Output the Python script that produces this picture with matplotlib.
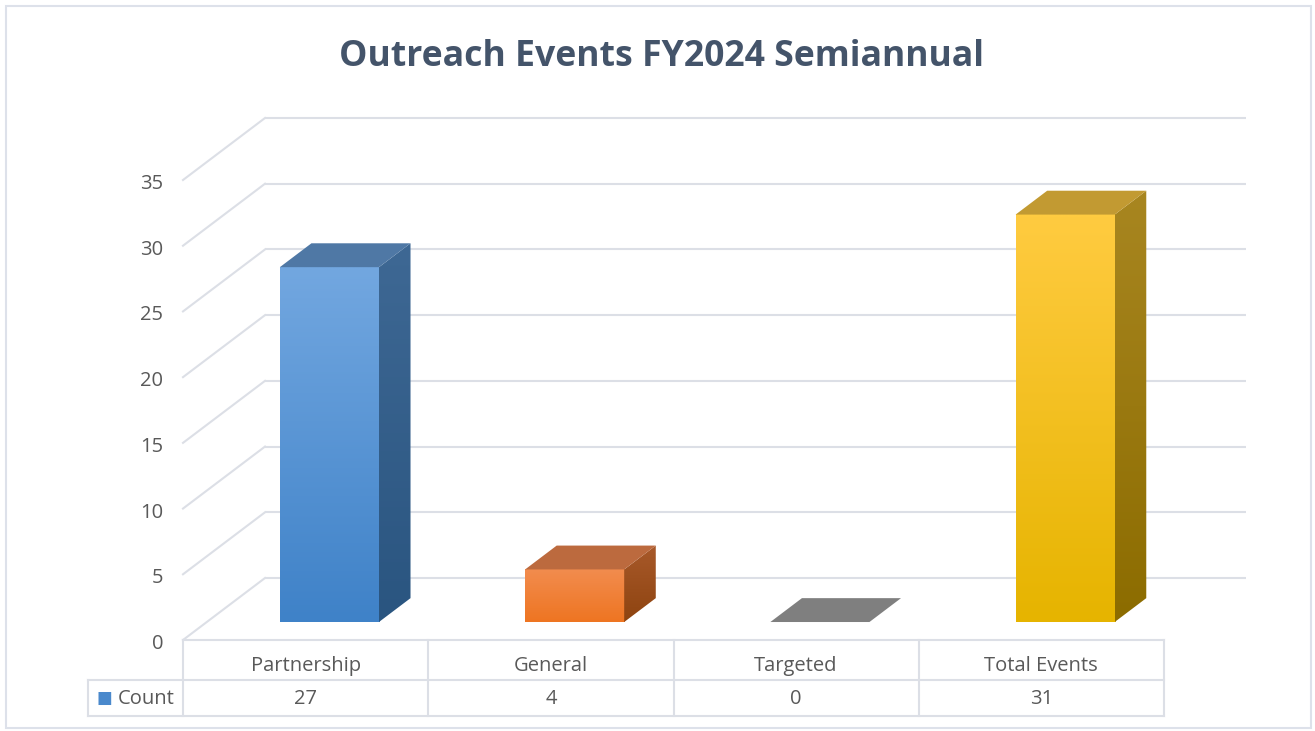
import numpy as np
import matplotlib
matplotlib.use("Agg")
import matplotlib.pyplot as plt
from matplotlib.patches import Polygon, Rectangle
from matplotlib.colors import LinearSegmentedColormap

# ---- data ----
categories = ["Partnership", "General", "Targeted", "Total Events"]
counts = [27, 4, 0, 31]
series_name = "Count"
yticks = [0, 5, 10, 15, 20, 25, 30, 35]
title = "Outreach Events FY2024 Semiannual"

# ---- style ----
front_cols = [("#72A7E0", "#3F82C8"), ("#F28C4E", "#EE7522"), ("#8A8A8A", "#7A7A7A"), ("#FFCB40", "#E6B400")]
side_cols = [("#3E6894", "#2A5580"), ("#A8592A", "#8E4410"), ("#6A6A6A", "#5A5A5A"), ("#A88620", "#8C6C00")]
top_cols = ["#4F78A5", "#BC6A3E", "#7F7F7F", "#C29A32"]
grid_c = "#DCDFE6"
text_c = "#595959"
title_c = "#44546A"
FONT = "Open Sans"

W, H = 1315, 731
fig = plt.figure(figsize=(W / 100, H / 100), dpi=100)
ax = fig.add_axes([0, 0, 1, 1])
ax.axis("off")

# axis scales: floor front spans x 0..n, y 0..35
n = len(categories)
x_px0, x_px1 = 183, 1164
y_px0, y_px35 = 640, 180
sx = (x_px1 - x_px0) / n
sy = (y_px0 - y_px35) / 35
ax.set_xlim(-x_px0 / sx, (W - x_px0) / sx)
ax.set_ylim(-(H - y_px0) / sy, y_px0 / sy)

# depth offsets (full depth), in data units
DX = 82 / sx
DY = 62 / sy

def P(x, y, z):
    return (x + z * DX, y + z * DY)

# gridlines: back wall and left wall
for v in yticks:
    ax.plot([P(0, v, 1)[0], P(n, v, 1)[0]], [P(0, v, 1)[1], P(n, v, 1)[1]],
            color=grid_c, lw=1.5, zorder=1, solid_capstyle="butt")
    ax.plot([P(0, v, 0.0)[0], P(0, v, 1)[0]], [P(0, v, 0.0)[1], P(0, v, 1)[1]],
            color=grid_c, lw=1.5, zorder=1)
    ax.text(-0.08, v - 0.3, str(v), ha="right", va="center", fontsize=14.5,
            color=text_c, family=FONT)

# bars
z0, z1 = 0.29, 0.675
bw = 0.404

def grad_img(c_top, c_bot):
    cm = LinearSegmentedColormap.from_list("g", [c_bot, c_top])
    return cm(np.linspace(0, 1, 64).reshape(-1, 1))

for i, (cat, val) in enumerate(zip(categories, counts)):
    xl = i + 0.5 - bw / 2
    xr = i + 0.5 + bw / 2
    fl = P(xl, 0, z0); fr = P(xr, 0, z0)
    tl = P(xl, val, z0); tr = P(xr, val, z0)
    bl = P(xl, val, z1); br = P(xr, val, z1)
    brb = P(xr, 0, z1)
    if val > 0:
        # front face
        img = grad_img(*front_cols[i])
        ax.imshow(img, extent=[fl[0], fr[0], fl[1], tl[1]], origin="lower",
                  aspect="auto", zorder=3, interpolation="bilinear")
        # side face
        side = Polygon([fr, brb, br, tr], closed=True, facecolor="none",
                       edgecolor="none", zorder=3)
        ax.add_patch(side)
        im = ax.imshow(grad_img(*side_cols[i]),
                       extent=[fr[0], brb[0], fr[1], br[1]], origin="lower",
                       aspect="auto", zorder=3, interpolation="bilinear")
        im.set_clip_path(side)
    # top face
    ax.add_patch(Polygon([tl, tr, br, bl], closed=True, facecolor=top_cols[i],
                         edgecolor="none", zorder=4))

ax.set_xlim(-x_px0 / sx, (W - x_px0) / sx)
ax.set_ylim(-(H - y_px0) / sy, y_px0 / sy)

# data table
row1 = -(680 - y_px0) / sy
row2 = -(716 - y_px0) / sy
legx = -(x_px0 - 88) / sx
tkw = dict(color=grid_c, lw=1.5, zorder=2)
ax.plot([0, n], [0, 0], **tkw)
ax.plot([legx, n], [row1, row1], **tkw)
ax.plot([legx, n], [row2, row2], **tkw)
for k in range(n + 1):
    ax.plot([k, k], [0, row2], **tkw)
ax.plot([legx, legx], [row1, row2], **tkw)
hdr_y = -(666 - y_px0) / sy
cnt_y = -(699 - y_px0) / sy
for i, (cat, val) in enumerate(zip(categories, counts)):
    ax.text(i + 0.5, hdr_y, cat, ha="center", va="center", fontsize=14.5,
            color=text_c, family=FONT)
    ax.text(i + 0.5, cnt_y, str(val), ha="center", va="center",
            fontsize=14.5, color=text_c, family=FONT)
ax.text(legx + 0.035, cnt_y + 0.1, "\u25A0", ha="left", va="center",
        fontsize=12, color="#4A89CC", family="DejaVu Sans")
ax.text(legx + 0.12, cnt_y, series_name, ha="left", va="center",
        fontsize=14.5, color=text_c, family=FONT)

# title
fig.text(662 / W, 1 - 57 / H, title, ha="center", va="center", fontsize=25.7,
         fontweight="bold", color=title_c, family=FONT)

# outer border
fig.patches.append(Rectangle((6 / W, 3 / H), 1305 / W, 722 / H,
                             transform=fig.transFigure, fill=False,
                             edgecolor="#DDE1EA", lw=1.5))

fig.savefig("out.png", dpi=100)
